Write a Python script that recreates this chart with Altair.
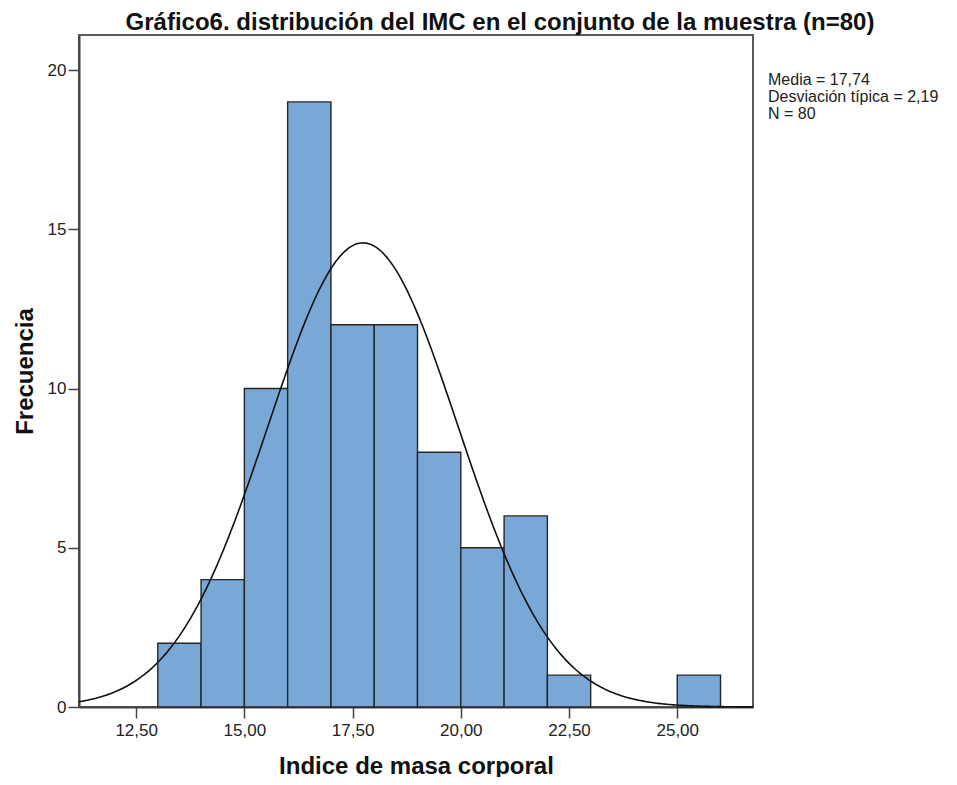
import altair as alt
import pandas as pd
import numpy as np

# Histogram data (bin width 1)
bin_starts = [13, 14, 15, 16, 17, 18, 19, 20, 21, 22, 23, 24, 25]
counts = [2, 4, 10, 19, 12, 12, 8, 5, 6, 1, 0, 0, 1]
bin_width = 1

# Summary statistics shown in the chart
mean_val = 17.74
sd_val = 2.19
n_val = 80

x_ticks = [12.5, 15.0, 17.5, 20.0, 22.5, 25.0]
y_ticks = [0, 5, 10, 15, 20]
x_domain = [11.18, 26.75]
y_domain = [0, 21.1]

stats_lines = ["Media = 17,74", "Desviación típica = 2,19", "N = 80"]
title_text = "Gráfico6. distribución del IMC en el conjunto de la muestra (n=80)"
x_title = "Indice de masa corporal"
y_title = "Frecuencia"

FONT = "Liberation Sans"

hist_df = pd.DataFrame({
    "start": bin_starts,
    "end": [b + bin_width for b in bin_starts],
    "count": counts,
})

# Fitted normal curve from the reported mean / sd / N
xs = np.linspace(x_domain[0], x_domain[1], 400)
ys = n_val * bin_width * np.exp(-0.5 * ((xs - mean_val) / sd_val) ** 2) / (sd_val * np.sqrt(2 * np.pi))
curve_df = pd.DataFrame({"x": xs, "y": ys})

x_scale = alt.Scale(domain=x_domain, nice=False, zero=False)
y_scale = alt.Scale(domain=y_domain, nice=False)

x_axis = alt.Axis(
    values=x_ticks, title=x_title,
    labelExpr="replace(format(datum.value, '.2f'), '.', ',')",
    titleX=337, titleY=66, titleBaseline="alphabetic", titleAlign="center",
    grid=False,
)
y_axis = alt.Axis(
    values=y_ticks, title=y_title, format="d",
    titleX=-47, titleY=336, titleBaseline="alphabetic", titleAlign="center", titleAngle=-90,
    grid=False,
)

bars = alt.Chart(hist_df).transform_filter("datum.count > 0").mark_bar(
    color="#79a7d6", stroke="#262626", strokeWidth=1.4
).encode(
    x=alt.X("start:Q", scale=x_scale, axis=x_axis),
    x2="end:Q",
    y=alt.Y("count:Q", scale=y_scale, axis=y_axis),
    y2=alt.datum(0),
)

curve = alt.Chart(curve_df).mark_line(color="#111111", strokeWidth=1.6).encode(
    x=alt.X("x:Q", scale=x_scale),
    y=alt.Y("y:Q", scale=y_scale),
)

stats = alt.Chart(pd.DataFrame({"d": [0]})).mark_text(
    text=stats_lines, align="left", baseline="alphabetic",
    font=FONT, fontSize=16, lineHeight=17, color="#222222",
).encode(x=alt.value(689), y=alt.value(50))

title = alt.Chart(pd.DataFrame({"d": [0]})).mark_text(
    text=title_text, align="center", baseline="alphabetic",
    font=FONT, fontSize=24, fontWeight="bold", color="#111111",
).encode(x=alt.value(421), y=alt.value(-5))

chart = alt.layer(bars, curve, stats, title).properties(
    width=674, height=672,
    autosize="none",
    padding={"left": 71, "top": 27, "right": 196, "bottom": 70},
).configure_view(
    stroke="#5a5a5a", strokeWidth=2,
).configure_axis(
    labelFont=FONT, labelFontSize=17, labelColor="#222222",
    titleFont=FONT, titleFontSize=24, titleFontWeight="bold", titleColor="#111111",
    tickColor="#444444", tickSize=11, tickWidth=1.5,
    domainColor="#444444", domainWidth=2,
).configure_axisX(labelPadding=4).configure_axisY(labelPadding=2)

chart.save("out.html", embed_options={"renderer": "svg", "actions": False})
